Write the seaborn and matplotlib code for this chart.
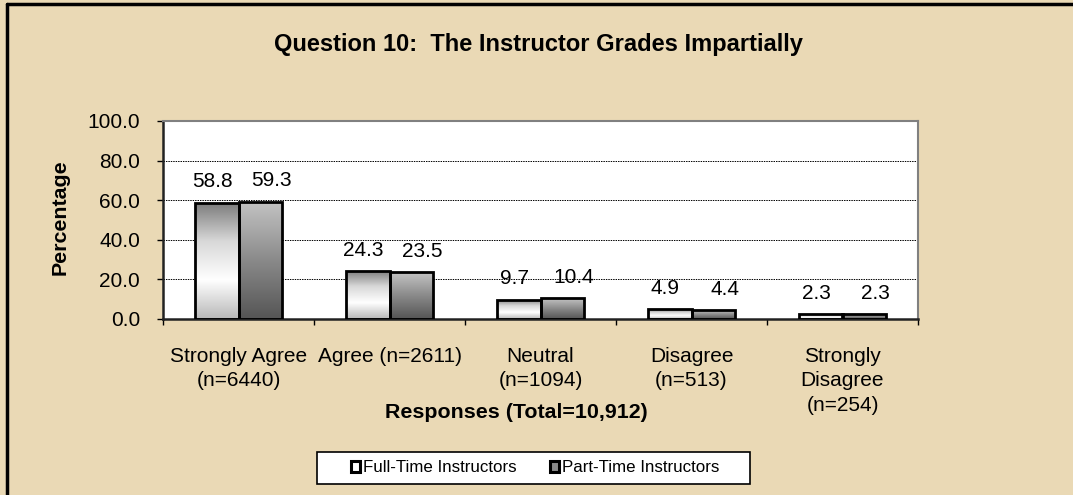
import numpy as np
import pandas as pd
import matplotlib
matplotlib.use("Agg")
import matplotlib.pyplot as plt
import seaborn as sns
from matplotlib.patches import Patch, Rectangle
from matplotlib.colors import LinearSegmentedColormap
from matplotlib.lines import Line2D

categories = ["Strongly Agree\n(n=6440)", "Agree (n=2611)", "Neutral\n(n=1094)",
              "Disagree\n(n=513)", "Strongly\nDisagree\n(n=254)"]
full_time = [58.8, 24.3, 9.7, 4.9, 2.3]
part_time = [59.3, 23.5, 10.4, 4.4, 2.3]
series = ["Full-Time Instructors", "Part-Time Instructors"]

df = pd.DataFrame({
    "cat": categories * 2,
    "val": full_time + part_time,
    "who": [series[0]] * 5 + [series[1]] * 5,
})

sns.set_style("white")
plt.rcParams["font.family"] = ["Liberation Sans", "DejaVu Sans"]
plt.rcParams["text.color"] = "black"
plt.rcParams["xtick.color"] = "black"
plt.rcParams["ytick.color"] = "black"

bg = "#EAD9B5"
fig = plt.figure(figsize=(10.73, 4.95), dpi=100, facecolor=bg)
ax = fig.add_axes([163 / 1073, 1 - 319 / 495, 755 / 1073, 198 / 495])
ax.set_facecolor("white")

sns.barplot(data=df, x="cat", y="val", hue="who", order=categories, hue_order=series,
            width=0.58, gap=0, palette=["white", "gray"], ax=ax, legend=False)

# gradient fills clipped to each bar (row 0 = top of bar)
cm_full = LinearSegmentedColormap.from_list("ft", ["#7a7a7a", "#d8d8d8", "#ffffff", "#b8b8b8"])
cm_part = LinearSegmentedColormap.from_list("pt", ["#c4c4c4", "#8a8a8a", "#555555"])
grad = np.linspace(0, 1, 256).reshape(-1, 1)
patches = list(ax.patches)
for i, p in enumerate(patches):
    x0, y0 = p.get_x(), p.get_y()
    w, h = p.get_width(), p.get_height()
    if h <= 0:
        continue
    cmap = cm_full if i < 5 else cm_part
    im = ax.imshow(grad, extent=[x0, x0 + w, y0, y0 + h], aspect="auto", cmap=cmap,
                   origin="upper", zorder=2.5, interpolation="bilinear")
    im.set_clip_path(p)
    p.set_facecolor("none")
    p.set_edgecolor("black")
    p.set_linewidth(2)
    p.set_zorder(3)
    dx = -3 if i < 5 else 8
    ax.annotate(f"{h:.1f}", (x0 + w / 2, y0 + h), xytext=(dx, 15), textcoords="offset points",
                ha="center", va="center", fontsize=15)

ax.set_xlim(-0.5, 4.5)
ax.set_ylim(0, 100)
ax.set_yticks([0, 20, 40, 60, 80, 100])
ax.set_yticklabels([f"{v:.1f}" for v in [0, 20, 40, 60, 80, 100]], fontsize=15)
ax.tick_params(axis="y", direction="out", length=4.5, width=1, color="black", left=True, pad=12)
ax.set_xticks(range(5))
ax.set_xticklabels(categories, fontsize=15, linespacing=1.36)
ax.tick_params(axis="x", which="major", length=0, pad=20)
ax.set_xticks(np.arange(-0.5, 5, 1), minor=True)
ax.tick_params(axis="x", which="minor", direction="out", length=4.5, width=1, color="black", bottom=True)
for y in [20, 40, 60, 80]:
    ax.axhline(y, color="black", lw=0.7, ls=(0, (1.5, 1)), zorder=1)
ax.grid(False)

for s in ["top", "right"]:
    ax.spines[s].set_color("#808080")
    ax.spines[s].set_linewidth(1.5)
for s in ["left", "bottom"]:
    ax.spines[s].set_color("#222222")
    ax.spines[s].set_linewidth(1.8)
ax.set_xlabel("")
ax.set_ylabel("")

fig.text(538 / 1073, 1 - 45 / 495, "Question 10:  The Instructor Grades Impartially",
         ha="center", va="center", fontsize=17, fontweight="bold")
fig.text(60 / 1073, 1 - 217 / 495, "Percentage", rotation=90, ha="center", va="center",
         fontsize=15.4, fontweight="bold")
fig.text(516 / 1073, 1 - 413 / 495, "Responses (Total=10,912)", ha="center", va="center",
         fontsize=15.4, fontweight="bold")

# legend box drawn by hand, legend entries inside it
fig.add_artist(Rectangle((317 / 1073, 1 - 484 / 495), 433 / 1073, 32 / 495,
                         transform=fig.transFigure, facecolor="white", edgecolor="black",
                         lw=1.2, zorder=5))
handles = [Patch(facecolor="white", edgecolor="black", linewidth=2.2),
           Patch(facecolor="#8a8a8a", edgecolor="black", linewidth=2.2)]
leg = fig.legend(handles, series, loc="center", bbox_to_anchor=(535 / 1073, 1 - 468 / 495),
                 ncol=2, fontsize=12.2, frameon=False, handlelength=0.55,
                 handleheight=0.55, handletextpad=0.15, columnspacing=2.0,
                 borderpad=0.3, borderaxespad=0)
leg.set_zorder(6)

# outer frame (left and top edges visible)
fig.add_artist(Line2D([6.5 / 1073, 6.5 / 1073], [0, 1 - 4 / 495], color="black", lw=2.5,
                      transform=fig.transFigure))
fig.add_artist(Line2D([6.5 / 1073, 1], [1 - 4 / 495, 1 - 4 / 495], color="black", lw=2.5,
                      transform=fig.transFigure))

fig.savefig("out.png", dpi=100, facecolor=bg)
